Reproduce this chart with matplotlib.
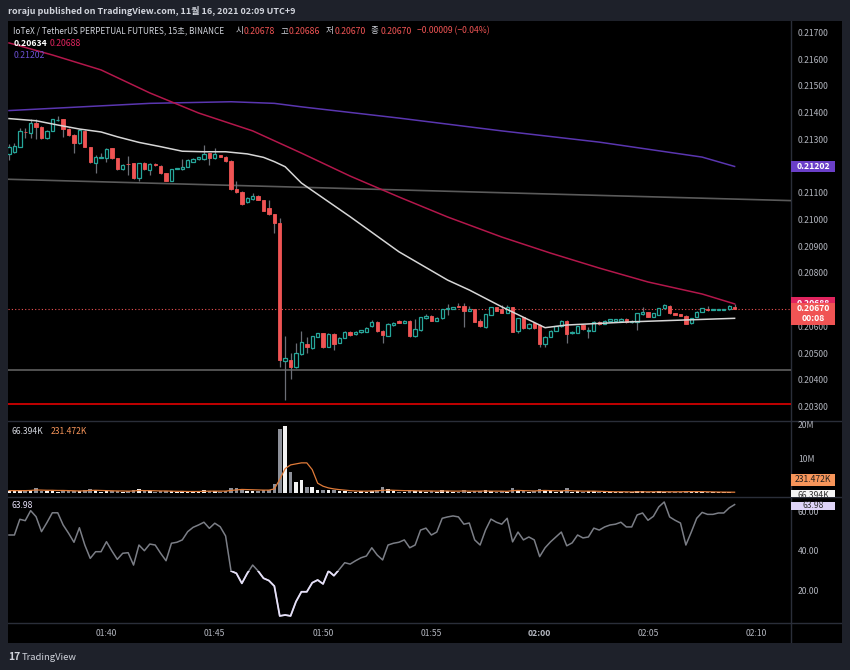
import matplotlib
matplotlib.use('Agg')
import matplotlib.pyplot as plt
from matplotlib.patches import Rectangle
import numpy as np

plt.rcParams['font.family'] = ['Noto Sans CJK KR', 'DejaVu Sans']

# ---------------- data ----------------
time_labels = ['01:40', '01:45', '01:50', '01:55', '02:00', '02:05', '02:10']
time_label_idx = [18, 38, 58, 78, 98, 118, 138]   # candle index (15 s candles from 01:35:30)

opens = [
    0.21247, 0.21257, 0.21276, 0.21331, 0.21328, 0.21363, 0.21348, 0.21307, 0.21336, 0.21374,
    0.21378, 0.21342, 0.21320, 0.21289, 0.21336, 0.21274, 0.21214, 0.21235, 0.21235, 0.21270,
    0.21232, 0.21191, 0.21212, 0.21214, 0.21160, 0.21216, 0.21189, 0.21211, 0.21204, 0.21176,
    0.21149, 0.21194, 0.21191, 0.21201, 0.21220, 0.21229, 0.21230, 0.21251, 0.21232, 0.21245,
    0.21238, 0.21223, 0.21117, 0.21108, 0.21070, 0.21079, 0.21093, 0.21077, 0.21045, 0.21023,
    0.20989, 0.20476, 0.20478, 0.20451, 0.20499, 0.20538, 0.20524, 0.20566, 0.20578, 0.20528,
    0.20575, 0.20543, 0.20562, 0.20582, 0.20574, 0.20581, 0.20584, 0.20605, 0.20621, 0.20588,
    0.20569, 0.20609, 0.20624, 0.20618, 0.20624, 0.20568, 0.20590, 0.20634, 0.20643, 0.20625,
    0.20634, 0.20668, 0.20670, 0.20680, 0.20680, 0.20662, 0.20668, 0.20624, 0.20600, 0.20646,
    0.20675, 0.20668, 0.20655, 0.20675, 0.20587, 0.20638, 0.20597, 0.20615, 0.20609, 0.20538,
    0.20566, 0.20588, 0.20605, 0.20624, 0.20578, 0.20580, 0.20609, 0.20588, 0.20588, 0.20621,
    0.20613, 0.20625, 0.20625, 0.20625, 0.20632, 0.20619, 0.20619, 0.20650, 0.20656, 0.20640,
    0.20646, 0.20671, 0.20680, 0.20653, 0.20650, 0.20643, 0.20615, 0.20640, 0.20659, 0.20668,
    0.20667, 0.20667, 0.20667, 0.20668, 0.20678]
highs = [
    0.21286, 0.21290, 0.21345, 0.21345, 0.21378, 0.21378, 0.21353, 0.21338, 0.21381, 0.21391,
    0.21379, 0.21346, 0.21323, 0.21342, 0.21340, 0.21275, 0.21245, 0.21253, 0.21270, 0.21271,
    0.21234, 0.21211, 0.21242, 0.21215, 0.21216, 0.21219, 0.21215, 0.21214, 0.21206, 0.21177,
    0.21194, 0.21198, 0.21229, 0.21229, 0.21232, 0.21239, 0.21282, 0.21252, 0.21270, 0.21246,
    0.21241, 0.21225, 0.21149, 0.21110, 0.21086, 0.21102, 0.21095, 0.21078, 0.21075, 0.21025,
    0.21008, 0.20568, 0.20504, 0.20542, 0.20588, 0.20566, 0.20569, 0.20580, 0.20579, 0.20579,
    0.20579, 0.20564, 0.20585, 0.20585, 0.20587, 0.20591, 0.20602, 0.20628, 0.20624, 0.20590,
    0.20615, 0.20620, 0.20628, 0.20628, 0.20626, 0.20631, 0.20640, 0.20650, 0.20645, 0.20639,
    0.20670, 0.20688, 0.20678, 0.20690, 0.20690, 0.20680, 0.20669, 0.20633, 0.20652, 0.20677,
    0.20676, 0.20682, 0.20684, 0.20676, 0.20635, 0.20639, 0.20615, 0.20616, 0.20611, 0.20568,
    0.20590, 0.20607, 0.20628, 0.20626, 0.20587, 0.20607, 0.20611, 0.20602, 0.20624, 0.20624,
    0.20628, 0.20633, 0.20633, 0.20635, 0.20635, 0.20626, 0.20655, 0.20678, 0.20658, 0.20655,
    0.20674, 0.20686, 0.20682, 0.20654, 0.20652, 0.20645, 0.20635, 0.20661, 0.20674, 0.20680,
    0.20670, 0.20670, 0.20670, 0.20684, 0.20686]
lows = [
    0.21226, 0.21252, 0.21275, 0.21307, 0.21307, 0.21304, 0.21305, 0.21305, 0.21335, 0.21372,
    0.21313, 0.21316, 0.21251, 0.21286, 0.21275, 0.21215, 0.21179, 0.21232, 0.21220, 0.21230,
    0.21189, 0.21189, 0.21171, 0.21155, 0.21149, 0.21189, 0.21171, 0.21204, 0.21174, 0.21148,
    0.21148, 0.21192, 0.21189, 0.21200, 0.21219, 0.21226, 0.21228, 0.21207, 0.21230, 0.21237,
    0.21220, 0.21114, 0.21102, 0.21058, 0.21067, 0.21077, 0.21075, 0.21035, 0.21020, 0.20954,
    0.20453, 0.20329, 0.20406, 0.20448, 0.20497, 0.20505, 0.20519, 0.20563, 0.20524, 0.20526,
    0.20515, 0.20540, 0.20560, 0.20568, 0.20572, 0.20579, 0.20583, 0.20603, 0.20583, 0.20543,
    0.20568, 0.20607, 0.20615, 0.20616, 0.20566, 0.20566, 0.20588, 0.20632, 0.20624, 0.20624,
    0.20632, 0.20646, 0.20669, 0.20676, 0.20600, 0.20661, 0.20620, 0.20603, 0.20599, 0.20645,
    0.20661, 0.20654, 0.20654, 0.20581, 0.20579, 0.20594, 0.20594, 0.20594, 0.20528, 0.20526,
    0.20564, 0.20586, 0.20603, 0.20543, 0.20575, 0.20579, 0.20590, 0.20559, 0.20586, 0.20609,
    0.20611, 0.20624, 0.20624, 0.20624, 0.20618, 0.20618, 0.20590, 0.20648, 0.20639, 0.20639,
    0.20645, 0.20670, 0.20650, 0.20645, 0.20641, 0.20611, 0.20614, 0.20639, 0.20658, 0.20663,
    0.20665, 0.20665, 0.20665, 0.20665, 0.20670]
closes = [
    0.21276, 0.21278, 0.21335, 0.21329, 0.21366, 0.21351, 0.21307, 0.21336, 0.21378, 0.21376,
    0.21341, 0.21320, 0.21289, 0.21338, 0.21276, 0.21218, 0.21238, 0.21236, 0.21266, 0.21232,
    0.21191, 0.21207, 0.21210, 0.21158, 0.21214, 0.21191, 0.21211, 0.21206, 0.21176, 0.21149,
    0.21191, 0.21195, 0.21201, 0.21226, 0.21230, 0.21236, 0.21247, 0.21232, 0.21247, 0.21238,
    0.21222, 0.21118, 0.21106, 0.21060, 0.21083, 0.21093, 0.21077, 0.21036, 0.21023, 0.20991,
    0.20478, 0.20484, 0.20451, 0.20505, 0.20544, 0.20528, 0.20567, 0.20578, 0.20528, 0.20575,
    0.20537, 0.20562, 0.20582, 0.20572, 0.20582, 0.20590, 0.20598, 0.20621, 0.20587, 0.20570,
    0.20612, 0.20618, 0.20618, 0.20624, 0.20569, 0.20593, 0.20638, 0.20643, 0.20625, 0.20634,
    0.20668, 0.20671, 0.20675, 0.20678, 0.20662, 0.20668, 0.20621, 0.20605, 0.20650, 0.20675,
    0.20662, 0.20655, 0.20675, 0.20584, 0.20634, 0.20597, 0.20612, 0.20597, 0.20538, 0.20563,
    0.20588, 0.20605, 0.20624, 0.20575, 0.20584, 0.20605, 0.20593, 0.20590, 0.20621, 0.20612,
    0.20625, 0.20630, 0.20630, 0.20632, 0.20620, 0.20624, 0.20653, 0.20656, 0.20640, 0.20653,
    0.20671, 0.20684, 0.20653, 0.20646, 0.20643, 0.20613, 0.20634, 0.20659, 0.20671, 0.20665,
    0.20668, 0.20668, 0.20668, 0.20680, 0.20670]

# volume in millions
volumes = [
    0.6, 0.5, 0.9, 0.5, 0.8, 1.5, 0.7, 0.5, 0.7, 0.4,
    0.8, 0.5, 0.7, 0.5, 0.9, 1.1, 1.0, 0.4, 0.6, 0.5,
    0.7, 0.4, 0.6, 0.8, 1.3, 0.5, 0.6, 0.3, 0.5, 0.6,
    0.5, 0.3, 0.5, 0.5, 0.4, 0.4, 0.8, 0.7, 0.5, 0.4,
    0.5, 1.5, 1.4, 1.3, 0.6, 0.5, 0.5, 0.8, 0.9, 2.8,
    19.0, 19.7, 6.2, 3.2, 3.75, 1.8, 1.8, 0.9, 1.0, 0.9,
    1.0, 0.6, 0.5, 0.4, 0.4, 0.5, 0.4, 0.7, 0.9, 1.8,
    1.2, 0.5, 0.4, 0.4, 0.9, 0.7, 0.6, 0.4, 0.5, 0.4,
    0.8, 0.6, 0.4, 0.4, 1.0, 0.3, 0.7, 0.5, 0.8, 0.5,
    0.4, 0.5, 0.4, 1.6, 1.0, 0.6, 0.4, 0.5, 1.2, 0.9,
    0.5, 0.4, 0.5, 1.6, 0.3, 0.5, 0.4, 0.5, 0.6, 0.4,
    0.3, 0.3, 0.3, 0.3, 0.3, 0.3, 0.6, 0.5, 0.3, 0.3,
    0.5, 0.4, 0.4, 0.3, 0.3, 0.6, 0.4, 0.5, 0.4, 0.3,
    0.2, 0.2, 0.2, 0.3, 0.066394]
volume_ma = [
    0.70, 0.70, 0.70, 0.70, 0.75, 0.90, 0.85, 0.80, 0.80, 0.75,
    0.75, 0.70, 0.65, 0.60, 0.65, 0.75, 0.80, 0.75, 0.70, 0.65,
    0.60, 0.60, 0.55, 0.60, 0.75, 0.70, 0.70, 0.65, 0.60, 0.60,
    0.55, 0.50, 0.50, 0.45, 0.45, 0.45, 0.50, 0.55, 0.55, 0.55,
    0.55, 0.75, 0.90, 1.05, 1.00, 0.95, 0.90, 0.85, 0.85, 1.20,
    4.00, 7.20, 8.30, 8.60, 8.90, 8.90, 6.90, 2.90, 2.00, 1.50,
    1.20, 1.00, 0.85, 0.70, 0.60, 0.55, 0.55, 0.60, 0.65, 0.80,
    0.85, 0.80, 0.75, 0.70, 0.70, 0.65, 0.60, 0.60, 0.60, 0.55,
    0.60, 0.60, 0.55, 0.55, 0.60, 0.55, 0.55, 0.55, 0.60, 0.55,
    0.55, 0.55, 0.50, 0.70, 0.75, 0.70, 0.65, 0.60, 0.70, 0.75,
    0.70, 0.65, 0.60, 0.75, 0.65, 0.60, 0.55, 0.55, 0.55, 0.50,
    0.45, 0.40, 0.35, 0.35, 0.35, 0.30, 0.35, 0.35, 0.35, 0.35,
    0.35, 0.35, 0.35, 0.35, 0.35, 0.40, 0.40, 0.40, 0.40, 0.35,
    0.30, 0.28, 0.26, 0.25, 0.231472]

rsi = [
    48.5, 48.5, 56.5, 55.8, 60.9, 57.8, 50.2, 54.8, 59.8, 59.8,
    53.6, 49.4, 44.8, 52.2, 43.4, 36.6, 40.0, 40.0, 45.1, 40.4,
    36.1, 39.2, 39.5, 33.2, 43.4, 40.5, 43.9, 43.4, 39.2, 35.4,
    44.3, 44.8, 46.0, 50.2, 52.4, 53.6, 55.0, 51.9, 54.5, 52.7,
    48.0, 30.2, 29.0, 23.9, 29.0, 33.2, 30.2, 26.5, 25.3, 22.5,
    7.3, 7.8, 7.3, 14.6, 19.6, 19.6, 24.2, 25.6, 23.6, 30.2,
    27.8, 31.0, 34.4, 33.7, 35.4, 36.9, 37.8, 42.0, 38.3, 35.8,
    43.4, 44.3, 44.8, 46.0, 42.0, 43.4, 51.0, 52.0, 48.5, 50.0,
    57.0, 57.7, 58.2, 57.7, 54.0, 54.6, 46.0, 43.4, 51.0, 56.6,
    55.0, 54.0, 57.0, 45.0, 50.0, 46.0, 47.5, 46.0, 37.5, 42.0,
    45.0, 47.5, 50.0, 43.0, 44.5, 48.5, 47.0, 47.5, 52.0, 51.0,
    52.6, 53.6, 54.0, 55.0, 52.6, 52.6, 58.7, 59.7, 56.0, 58.0,
    62.8, 65.3, 57.7, 56.0, 54.6, 43.4, 50.0, 57.0, 60.0, 59.0,
    59.0, 59.7, 59.7, 62.3, 63.98]
rsi_oversold = 30

# moving averages read at selected candle indices
ma_white_idx = [0, 5, 9, 13, 17, 20, 24, 28, 32, 36, 40, 44, 47, 49, 51, 54, 63, 72, 81, 85, 91, 99, 103, 115, 128, 134]
ma_white = [0.21381, 0.21373, 0.21357, 0.21342, 0.21331, 0.21313, 0.21292, 0.21276, 0.21259, 0.21257,
            0.21257, 0.21249, 0.21236, 0.21220, 0.21201, 0.21140, 0.21014, 0.20883, 0.20777, 0.20740,
            0.20677, 0.20599, 0.20609, 0.20621, 0.20630, 0.20634]
ma_crimson_idx = [0, 8, 17, 26, 35, 45, 54, 63, 72, 81, 91, 100, 109, 118, 128, 134]
ma_crimson = [0.21664, 0.21619, 0.21563, 0.21477, 0.21402, 0.21335, 0.21252, 0.21166, 0.21088, 0.21013,
              0.20938, 0.20878, 0.20822, 0.20770, 0.20725, 0.20688]
ma_purple_idx = [0, 26, 41, 49, 54, 72, 91, 109, 128, 134]
ma_purple = [0.21411, 0.21438, 0.21444, 0.21438, 0.21425, 0.21383, 0.21335, 0.21293, 0.21237, 0.21202]

trend_idx = [0, 134]
trend_price = [0.21154, 0.21080]
hline_grey = 0.20441
hline_red = 0.20312
last_price = 0.20670

price_ticks = [0.217, 0.216, 0.215, 0.214, 0.213, 0.212, 0.211, 0.210, 0.209, 0.208, 0.207, 0.206, 0.205, 0.204, 0.203]
vol_ticks = [20, 10]
vol_tick_labels = ['20M', '10M']
rsi_ticks = [60, 40, 20]

header_title = 'IoTeX / TetherUS PERPETUAL FUTURES, 15초, BINANCE'
ohlc_names = ['시', '고', '저', '종']
ohlc_vals = ['0.20678', '0.20686', '0.20670', '0.20670']
change_text = '\u22120.00009 (\u22120.04%)'

# ---------------- styles ----------------
W, H = 850, 670
BG_OUT = '#1e212a'
UP = '#26a69a'
DOWN = '#f05454'
WICK = '#6b6e76'
TXT = '#b2b5be'
SEP = '#2a2e39'
C_WHITE = '#d6d6d6'
C_CRIMSON = '#b3174b'
C_PURPLE = '#5a36b0'
C_ORANGE = '#e07b39'
FS = 6.2

fig = plt.figure(figsize=(W / 100, H / 100), dpi=100)
fig.patch.set_facecolor(BG_OUT)


def add_axes_px(x0, y0, x1, y1):
    return fig.add_axes([x0 / W, 1 - y1 / H, (x1 - x0) / W, (y1 - y0) / H])


# frame
frame = add_axes_px(8, 21, 842, 643)
frame.set_facecolor('black')
frame.set_xticks([]); frame.set_yticks([])
for s in frame.spines.values():
    s.set_visible(False)
frame.set_xlim(0, 834); frame.set_ylim(622, 0)
for yy in [400, 475.5, 602]:
    frame.plot([0, 834], [yy, yy], color=SEP, lw=1.0)
frame.plot([783, 783], [0, 622], color=SEP, lw=1.0)

PX0, PX1 = 8, 791
n = len(closes)
idx = np.arange(n)
x_left = -0.185
x_right = (PX1 - 9) / 5.415


def style(ax):
    ax.set_facecolor('none')
    ax.set_xticks([]); ax.set_yticks([])
    for s in ax.spines.values():
        s.set_visible(False)
    ax.set_xlim(x_left, x_right)


lab_x = (798 - PX0) / (PX1 - PX0)
bx0 = (791 - PX0) / (PX1 - PX0)
bw_ax = 44 / (PX1 - PX0)


def apply_clip(artist, clip):
    artist.set_clip_on(True)
    artist.set_clip_box(fig.bbox)
    artist.set_clip_path(clip)


def badge(axx, value, top_px, bot_px, fc, lines, tc, ppx_, bold=True, clip=None):
    y0 = value - bot_px * ppx_
    hgt = (top_px + bot_px) * ppx_
    tr = axx.get_yaxis_transform()
    r = Rectangle((bx0, y0), bw_ax, hgt, transform=tr,
                  facecolor=fc, edgecolor='none', clip_on=False, zorder=10)
    axx.add_patch(r)
    if clip is not None:
        apply_clip(r, clip)
    for k, t in enumerate(lines):
        tt = axx.text(bx0 + bw_ax / 2, value - k * 10 * ppx_, t, transform=tr,
                      color=tc, fontsize=FS, ha='center', va='center', clip_on=False, zorder=11,
                      fontweight='bold' if bold else 'normal')
        if clip is not None:
            apply_clip(tt, clip)
    return r


# ---------------- main price pane ----------------
ax = add_axes_px(PX0, 21, PX1, 421)
style(ax)
ax.set_ylim(0.20250, 0.21746)
ppx = (0.21746 - 0.20250) / 400.0   # price per pixel

o = np.array(opens); h = np.array(highs); l = np.array(lows); c = np.array(closes)
up = c >= o
ax.vlines(idx, l, h, color=WICK, lw=0.9, zorder=2)
bw = 0.62
body_lo = np.minimum(o, c); body_h = np.abs(c - o)
ax.bar(idx[up], body_h[up], bottom=body_lo[up], width=bw, facecolor='black',
       edgecolor=UP, linewidth=0.9, zorder=3)
ax.bar(idx[~up], body_h[~up], bottom=body_lo[~up], width=bw, facecolor=DOWN,
       edgecolor=DOWN, linewidth=0.6, zorder=3)

ax.plot(ma_purple_idx, ma_purple, color=C_PURPLE, lw=1.1, zorder=4)
ax.plot(ma_crimson_idx, ma_crimson, color=C_CRIMSON, lw=1.1, zorder=4)
ax.plot(ma_white_idx, ma_white, color=C_WHITE, lw=1.1, zorder=4)
ax.axline((trend_idx[0], trend_price[0]), (trend_idx[1], trend_price[1]), color='#5a5a5a', lw=1.2, zorder=1)
ax.axhline(hline_grey, color='#5f5f5f', lw=1.2, zorder=1)
ax.axhline(hline_red, color='#d00000', lw=1.3, zorder=1)
ax.axhline(last_price, color=DOWN, lw=0.8, ls=(0, (1, 2)), zorder=1)

ytr = ax.get_yaxis_transform()
badge_vals = [ma_purple[-1], ma_crimson[-1]]
for p in price_ticks:
    if min(abs(p - b) for b in badge_vals) < 6 * ppx:
        continue   # hidden behind a value badge
    ax.text(lab_x, p, f'{p:.5f}', transform=ytr, color=TXT, fontsize=FS,
            va='center', ha='left', clip_on=False, zorder=5)

badge(ax, ma_purple[-1], 5.5, 5.5, '#6a3fc8', ['0.21202'], 'white', ppx)
# crimson badge is mostly hidden behind the last-price badge: clip it to its visible strip
vis = Rectangle((bx0, last_price + 5.5 * ppx), bw_ax, 10 * ppx, transform=ytr,
                facecolor='none', edgecolor='none')
badge(ax, ma_crimson[-1], 7, 6, '#e0245e', ['0.20688'], 'white', ppx, clip=vis)
badge(ax, last_price, 5.5, 16.5, DOWN, ['0.20670', '00:08'], 'white', ppx)

# ---------------- volume pane ----------------
axv = add_axes_px(PX0, 421, PX1, 496.5)
style(axv)
vpx = 3.385
axv.set_ylim(-(496.5 - 493) / vpx, (493 - 421) / vpx)
vol = np.array(volumes)
axv.bar(idx[up], vol[up], width=0.66, color='#f2f2f2', zorder=2)
axv.bar(idx[~up], vol[~up], width=0.66, color='#8d9099', zorder=2)
axv.plot(idx, volume_ma, color=C_ORANGE, lw=0.9, zorder=3)
vtr = axv.get_yaxis_transform()
for v, t in zip(vol_ticks, vol_tick_labels):
    axv.text(lab_x, v, t, transform=vtr, color=TXT, fontsize=FS, va='center', ha='left', clip_on=False)
vppx = 1 / vpx
vclip = Rectangle((bx0, axv.get_ylim()[0]), bw_ax, axv.get_ylim()[1] - axv.get_ylim()[0], transform=vtr,
                  facecolor='none', edgecolor='none')
badge(axv, 0.231472 + 12.5 * vppx, 6, 6, '#f7955a', ['231.472K'], '#1e1e1e', vppx, bold=False)
badge(axv, 0.066394 - 2.3 * vppx, 5.5, 5.5, '#f5f5f5', ['66.394K'], '#333333', vppx, bold=False, clip=vclip)
axv.text(4 / (PX1 - PX0), 0.86, '66.394K', transform=axv.transAxes, color='#d1d4dc', fontsize=FS,
         va='center', ha='left')
axv.text(43 / (PX1 - PX0), 0.86, '231.472K', transform=axv.transAxes, color='#f7955a', fontsize=FS,
         va='center', ha='left')

# ---------------- RSI pane ----------------
axr = add_axes_px(PX0, 496.5, PX1, 623)
style(axr)
rpx = 1.965
axr.set_ylim((630.3 - 623) / rpx, (630.3 - 496.5) / rpx)
axr.plot(idx, rsi, color='#7b7e86', lw=1.1, zorder=2)
line2, = axr.plot(idx, rsi, color='#e6e0f8', lw=1.3, zorder=3)
clip = Rectangle((x_left, -100), x_right - x_left, 100 + rsi_oversold, transform=axr.transData,
                 facecolor='none', edgecolor='none')
line2.set_clip_path(clip)
rtr = axr.get_yaxis_transform()
for v in rsi_ticks:
    axr.text(lab_x, v, f'{v:.2f}', transform=rtr, color=TXT, fontsize=FS, va='center', ha='left',
             clip_on=False, zorder=5)
badge(axr, rsi[-1] - 0.7, 4.3, 4.3, '#ded4f7', [f'{rsi[-1]:.2f}'], '#333333', 1 / rpx, bold=False)
axr.text(4 / (PX1 - PX0), 0.925, f'{rsi[-1]:.2f}', transform=axr.transAxes, color='#e6e0f8',
         fontsize=FS, va='center', ha='left')

# time axis labels
xtr = axr.get_xaxis_transform()
for t, xi in zip(time_labels, time_label_idx):
    axr.text(xi, -11 / 126.5, t, transform=xtr, color=TXT, fontsize=FS, ha='center', va='center',
             clip_on=False, fontweight='bold' if t == '02:00' else 'normal')

# ---------------- header texts ----------------
fig.text(8 / W, 1 - 10.7 / H, 'roraju published on TradingView.com, 11월 16, 2021 02:09 UTC+9',
         color='#d1d4dc', fontsize=6.5, va='center', ha='left', fontweight='bold')
fig.text(13 / W, 1 - 31 / H, header_title, color='#d1d4dc', fontsize=5.95, va='center', ha='left')
name_x = [236, 281, 326, 371]
val_x = [244, 289, 335, 381]
for nm, vv, nx, vx in zip(ohlc_names, ohlc_vals, name_x, val_x):
    fig.text(nx / W, 1 - 31 / H, nm, color='#d1d4dc', fontsize=6.1, va='center', ha='left')
    fig.text(vx / W, 1 - 31 / H, vv, color=DOWN, fontsize=6.3, va='center', ha='left')
fig.text(417 / W, 1 - 31 / H, change_text, color=DOWN, fontsize=6.2, va='center', ha='left')
fig.text(13.5 / W, 1 - 43.3 / H, f'{ma_white[-1]:.5f}', color='white', fontsize=6.3, va='center',
         ha='left', fontweight='bold')
fig.text(50 / W, 1 - 43.3 / H, f'{ma_crimson[-1]:.5f}', color='#e0245e', fontsize=6.3, va='center', ha='left')
fig.text(13.5 / W, 1 - 55 / H, f'{ma_purple[-1]:.5f}', color='#6a4fd0', fontsize=6.3, va='center', ha='left')

# footer logo
fig.text(8 / W, 1 - 657 / H, '17', color='#d1d4dc', fontsize=7.5, va='center', ha='left', fontweight='bold')
fig.text(22 / W, 1 - 657 / H, 'TradingView', color='#d1d4dc', fontsize=6.8, va='center', ha='left')

fig.savefig('out.png', dpi=100, facecolor=fig.get_facecolor())
